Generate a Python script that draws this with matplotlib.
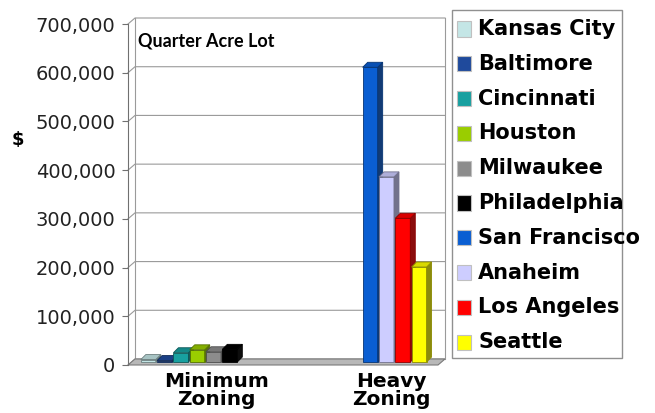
import numpy as np
import matplotlib.pyplot as plt
from matplotlib.patches import Polygon, Rectangle
from matplotlib.colors import to_rgb

# data
groups = ['Minimum\nZoning', 'Heavy\nZoning']
cities = ['Kansas City', 'Baltimore', 'Cincinnati', 'Houston', 'Milwaukee',
          'Philadelphia', 'San Francisco', 'Anaheim', 'Los Angeles', 'Seattle']
# 0 = city has no bar in that group
min_zoning = [5000, 3000, 19000, 25000, 21000, 26000, 0, 0, 0, 0]
heavy_zoning = [0, 0, 0, 0, 0, 0, 605000, 380000, 295000, 195000]
colors = ['#c4e6e6', '#1f4a9c', '#18a0a0', '#9acd00', '#8c8c8c',
          '#000000', '#0a5ed2', '#cdcdff', '#ff0000', '#ffff00']
yticks = np.arange(0, 700001, 100000)
ytick_labels = ['{:,}'.format(v) for v in yticks]

W, H = 655, 413
fig = plt.figure(figsize=(W / 100, H / 100), dpi=100)

def fx(x):
    return x / W

def fy(y):
    return 1 - y / H

# front frame of the pseudo 3D box
ax = fig.add_axes([fx(128), fy(365), 310 / W, 341 / H])
x0, x1 = -0.28, 1.228
ax.set_xlim(x0, x1)
ax.set_ylim(0, 700000)
px = (x1 - x0) / 310
py = 700000 / 341
wall_dx, wall_dy = 7 * px, 6 * py
bar_dx, bar_dy = 5 * px, 5 * py
mid_dx, mid_dy = 3.5 * px, 3 * py
grid_c = '#9a9a9a'

# back wall with grid
for v in yticks:
    ax.plot([x0, x0 + wall_dx, x1 + wall_dx], [v, v + wall_dy, v + wall_dy],
            color=grid_c, lw=0.8, clip_on=False, zorder=1)
ax.plot([x0 + wall_dx, x0 + wall_dx], [wall_dy, 700000 + wall_dy],
        color=grid_c, lw=0.8, clip_on=False, zorder=1)
ax.plot([x1 + wall_dx, x1 + wall_dx], [wall_dy, 700000 + wall_dy],
        color=grid_c, lw=0.8, clip_on=False, zorder=1)
# floor
ax.add_patch(Polygon([(x0, 0), (x1, 0), (x1 + wall_dx, wall_dy), (x0 + wall_dx, wall_dy)],
                     closed=True, facecolor='#b8b8b8', edgecolor='#7a7a7a', lw=0.8,
                     clip_on=False, zorder=2))

# bars
width = 15 * px
pitch = 16.3 * px
for g, vals in enumerate([min_zoning, heavy_zoning]):
    idx = [i for i, v in enumerate(vals) if v > 0]
    n = len(idx)
    for k, i in enumerate(idx):
        v = vals[i]
        c = np.array(to_rgb(colors[i]))
        dark = c * 0.55
        xc = g + (k - (n - 1) / 2) * pitch + mid_dx
        xl, xr = xc - width / 2, xc + width / 2
        base, top = mid_dy, mid_dy + v
        z = 3 + k * 0.01
        ax.bar(xc, v, width=width, bottom=base, color=colors[i],
               edgecolor=dark, lw=0.6, zorder=z, clip_on=False)
        ax.add_patch(Polygon([(xr, base), (xr + bar_dx, base + bar_dy),
                              (xr + bar_dx, top + bar_dy), (xr, top)],
                             closed=True, facecolor=dark * 0.9 + 0.05, edgecolor=dark,
                             lw=0.6, zorder=z, clip_on=False))
        ax.add_patch(Polygon([(xl, top), (xr, top), (xr + bar_dx, top + bar_dy),
                              (xl + bar_dx, top + bar_dy)],
                             closed=True, facecolor=c * 0.85, edgecolor=dark,
                             lw=0.6, zorder=z, clip_on=False))

# axes styling
for s in ['top', 'right', 'bottom']:
    ax.spines[s].set_visible(False)
ax.spines['left'].set_color('#707070')
ax.set_facecolor('none')
ax.set_yticks(yticks)
ax.set_yticklabels(ytick_labels, fontsize=14, color='#222222')
ax.tick_params(axis='y', length=4, color='#707070', pad=5)
ax.set_xticks([0.15, 1.0])
ax.set_xticklabels(groups, fontsize=14.5, fontweight='bold', linespacing=0.95)
ax.tick_params(axis='x', length=0, pad=5)

fig.text(fx(18), fy(140), '$', fontsize=13, fontweight='bold', ha='center', va='center')
fig.text(fx(138), fy(41), 'Quarter Acre Lot', fontsize=13, fontweight='bold',
         family=['Liberation Sans Narrow', 'Lato'], ha='left', va='center')

# legend box (text runs past the border like the original)
fig.add_artist(Rectangle((fx(452), fy(358)), 170 / W, 348 / H, transform=fig.transFigure,
                         facecolor='white', edgecolor='#909090', lw=1))
for i, city in enumerate(cities):
    yc = 29 + i * 34.8
    fig.add_artist(Rectangle((fx(457), fy(yc + 7.5)), 14 / W, 15 / H,
                             transform=fig.transFigure, facecolor=colors[i],
                             edgecolor='#c0c0c0', lw=0.8))
    fig.text(fx(478), fy(yc), city, fontsize=15, fontweight='bold',
             ha='left', va='center')

fig.savefig('out.png', dpi=100)
